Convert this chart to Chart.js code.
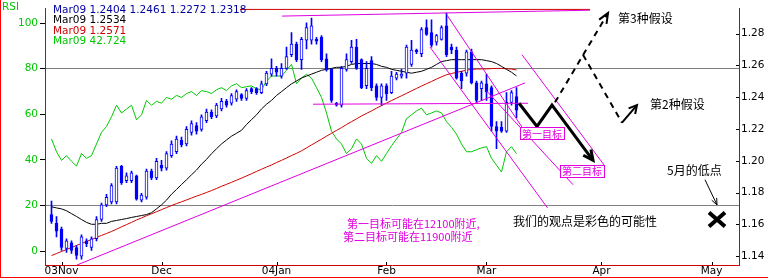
<!DOCTYPE html>
<html>
<head>
<meta charset="utf-8">
<script src="https://cdn.jsdelivr.net/npm/chart.js@4.4.1/dist/chart.umd.min.js"></script>
<style>
  html, body { margin: 0; padding: 0; background: #fff; }
  canvas { display: block; }
</style>
</head>
<body>
<canvas id="myChart" width="768" height="279"></canvas>
<script>
// daily bars, index 0 = 30 Oct 2003 ... 93 = 09 Mar 2004
var lastDate = "Mar09";
var opens = [1.1662,1.1607,1.1571,1.1449,1.1485,1.1455,1.1400,1.1497,1.1455,1.1510,
  1.1631,1.1723,1.1741,1.1741,1.1966,1.1875,1.1875,1.1905,1.1753,1.1771,
  1.1936,1.1893,1.1972,1.1954,1.2033,1.2058,1.2131,1.2106,1.2179,1.2222,
  1.2198,1.2252,1.2307,1.2283,1.2326,1.2374,1.2362,1.2387,1.2417,1.2393,
  1.2454,1.2454,1.2429,1.2484,1.2545,1.2581,1.2533,1.2581,1.2667,1.2734,
  1.2636,1.2758,1.2758,1.2764,1.2776,1.2642,1.2575,1.2362,1.2350,1.2575,
  1.2624,1.2715,1.2636,1.2472,1.2630,1.2472,1.2399,1.2472,1.2429,1.2520,
  1.2533,1.2551,1.2606,1.2697,1.2673,1.2837,1.2807,1.2746,1.2764,1.2849,
  1.2715,1.2697,1.2551,1.2551,1.2685,1.2490,1.2454,1.2484,1.2460,1.2216,
  1.2210,1.2186,1.2368,1.2404];
var highs = [1.1747,1.1650,1.1583,1.1510,1.1497,1.1467,1.1534,1.1510,1.1522,1.1650,
  1.1735,1.1790,1.1857,1.1966,1.1972,1.1924,1.1936,1.1911,1.1796,1.1948,
  1.1948,1.2015,1.2003,1.2058,1.2125,1.2155,1.2149,1.2216,1.2252,1.2240,
  1.2289,1.2326,1.2320,1.2362,1.2393,1.2387,1.2423,1.2447,1.2423,1.2454,
  1.2460,1.2460,1.2502,1.2563,1.2642,1.2594,1.2612,1.2715,1.2807,1.2746,
  1.2776,1.2868,1.2898,1.2776,1.2788,1.2673,1.2581,1.2368,1.2594,1.2673,
  1.2758,1.2764,1.2642,1.2624,1.2655,1.2484,1.2484,1.2484,1.2563,1.2557,
  1.2575,1.2727,1.2758,1.2703,1.2837,1.2886,1.2886,1.2795,1.2849,1.2929,
  1.2734,1.2715,1.2563,1.2697,1.2703,1.2502,1.2502,1.2545,1.2472,1.2246,
  1.2246,1.2429,1.2441,1.2461];
var lows = [1.1607,1.1522,1.1437,1.1424,1.1418,1.1382,1.1382,1.1461,1.1437,1.1497,
  1.1619,1.1711,1.1729,1.1729,1.1851,1.1863,1.1863,1.1753,1.1741,1.1759,
  1.1881,1.1881,1.1936,1.1942,1.2021,1.2045,1.2088,1.2094,1.2161,1.2167,
  1.2186,1.2240,1.2265,1.2271,1.2313,1.2338,1.2350,1.2374,1.2380,1.2380,
  1.2423,1.2417,1.2423,1.2472,1.2533,1.2533,1.2520,1.2575,1.2655,1.2624,
  1.2575,1.2703,1.2734,1.2734,1.2624,1.2563,1.2368,1.2344,1.2338,1.2563,
  1.2612,1.2575,1.2454,1.2454,1.2441,1.2380,1.2350,1.2380,1.2423,1.2508,
  1.2520,1.2520,1.2594,1.2673,1.2655,1.2788,1.2715,1.2727,1.2758,1.2655,
  1.2673,1.2514,1.2454,1.2533,1.2484,1.2368,1.2380,1.2380,1.2186,1.2076,
  1.2179,1.2179,1.2350,1.2272];
var closes = [1.1619,1.1558,1.1455,1.1497,1.1437,1.1406,1.1522,1.1479,1.1510,1.1631,
  1.1723,1.1771,1.1845,1.1954,1.1863,1.1905,1.1924,1.1759,1.1784,1.1936,
  1.1893,1.1997,1.1954,1.2045,1.2106,1.2137,1.2100,1.2198,1.2234,1.2186,
  1.2277,1.2307,1.2277,1.2350,1.2374,1.2350,1.2411,1.2435,1.2393,1.2441,
  1.2435,1.2429,1.2484,1.2551,1.2581,1.2557,1.2581,1.2655,1.2734,1.2636,
  1.2764,1.2837,1.2849,1.2752,1.2636,1.2575,1.2380,1.2350,1.2581,1.2636,
  1.2715,1.2581,1.2460,1.2581,1.2460,1.2399,1.2472,1.2423,1.2533,1.2545,
  1.2545,1.2715,1.2697,1.2685,1.2825,1.2795,1.2727,1.2788,1.2837,1.2667,
  1.2697,1.2520,1.2502,1.2685,1.2490,1.2380,1.2490,1.2435,1.2216,1.2186,
  1.2186,1.2368,1.2429,1.2318];
var maShort = [1.1711,1.1704,1.1698,1.1686,1.1668,1.1650,1.1631,1.1613,1.1601,1.1601,
  1.1607,1.1607,1.1619,1.1625,1.1631,1.1637,1.1644,1.1650,1.1656,1.1662,
  1.1674,1.1698,1.1723,1.1753,1.1790,1.1820,1.1851,1.1881,1.1912,1.1942,
  1.1979,1.2009,1.2045,1.2076,1.2106,1.2131,1.2155,1.2173,1.2192,1.2228,
  1.2259,1.2289,1.2326,1.2356,1.2380,1.2411,1.2435,1.2460,1.2484,1.2502,
  1.2521,1.2533,1.2545,1.2557,1.2569,1.2575,1.2581,1.2588,1.2588,1.2594,
  1.2606,1.2612,1.2612,1.2612,1.2612,1.2606,1.2594,1.2588,1.2575,1.2569,
  1.2563,1.2557,1.2551,1.2557,1.2563,1.2575,1.2588,1.2606,1.2624,1.2630,
  1.2636,1.2636,1.2636,1.2636,1.2636,1.2636,1.2636,1.2630,1.2624,1.2612,
  1.2594,1.2575,1.2557,1.2534];
var maLong = [1.1404,1.1417,1.1430,1.1442,1.1455,1.1468,1.1480,1.1493,1.1505,1.1518,
  1.1531,1.1543,1.1556,1.1570,1.1585,1.1599,1.1613,1.1628,1.1641,1.1655,
  1.1667,1.1680,1.1693,1.1706,1.1719,1.1731,1.1742,1.1754,1.1766,1.1778,
  1.1789,1.1801,1.1813,1.1826,1.1840,1.1852,1.1865,1.1878,1.1891,1.1905,
  1.1919,1.1933,1.1947,1.1961,1.1974,1.1989,1.2003,1.2018,1.2033,1.2047,
  1.2063,1.2081,1.2100,1.2118,1.2136,1.2155,1.2173,1.2191,1.2209,1.2228,
  1.2246,1.2264,1.2282,1.2298,1.2314,1.2331,1.2347,1.2363,1.2379,1.2394,
  1.2409,1.2424,1.2440,1.2455,1.2470,1.2485,1.2499,1.2514,1.2528,1.2541,
  1.2549,1.2556,1.2563,1.2570,1.2575,1.2577,1.2578,1.2578,1.2580,1.2581,
  1.2581,1.2579,1.2577,1.2571];
var rsi = [49.2,43.6,39.8,41.9,39.4,37.3,42.8,40.7,41.9,47.0,
  52.1,54.7,58.9,64.0,60.6,62.3,64.0,57.6,59.8,66.1,
  64.0,65.7,64.9,67.4,66.6,68.3,67.4,69.1,70.0,68.3,
  70.4,70.0,69.1,70.8,71.7,70.4,72.5,73.4,71.7,72.1,
  72.5,71.2,70.8,74.6,76.8,76.8,76.8,79.3,81.9,73.4,
  75.9,77.6,75.9,71.7,67.4,60.6,52.6,49.2,47.0,42.8,
  44.9,49.2,47.0,40.7,38.5,41.9,39.4,42.8,46.2,49.2,
  52.1,58.1,59.8,61.5,62.7,59.8,60.6,61.5,60.6,56.8,
  54.3,51.3,47.0,43.6,43.6,44.5,45.3,45.8,40.7,37.7,
  34.7,43.6,45.8,42.724];

var tickPos = [2, 22, 45, 67, 87, 110, 132];
var tickLabels = ["03Nov", "Dec", "04Jan", "Feb", "Mar", "Apr", "May"];
var priceTicks = [1.14, 1.16, 1.18, 1.2, 1.22, 1.24, 1.26, 1.28];
var rsiTicks = [0, 20, 40, 60, 80, 100];
var rsiLevels = [20, 80];

// hand-drawn trend lines (bar index, price)
var trendLines = [
  [[46.1, 1.2910], [107.7, 1.2947]],
  [[5.1, 1.1345], [94.7, 1.2490]],
  [[52.3, 1.2356], [95.3, 1.2362]],
  [[79.1, 1.2916], [95.7, 1.2137]],
  [[75.7, 1.2715], [99.2, 1.1704]],
  [[94.1, 1.2667], [110.7, 1.1966]],
  [[87.0, 1.2440], [104.3, 1.1850]]
];
var redTop = [[37.7, 1.2952], [107.7, 1.2952]];

var BLUE = "#0000ff", MAG = "#e000e0", GREEN = "#00c800", RED = "#d00000";
var FONT = "DejaVu Sans";
var CJK = "'Noto Sans CJK SC'";

var idx = opens.map(function (v, i) { return i; });

var datasets = [
  {
    type: "line", data: idx.map(function (i) { return { x: i, y: rsi[i] }; }),
    yAxisID: "rsi", borderColor: GREEN, borderWidth: 1, pointRadius: 0, order: 9
  },
  {
    type: "line", data: idx.map(function (i) { return { x: i, y: maLong[i] }; }),
    yAxisID: "price", borderColor: RED, borderWidth: 1, pointRadius: 0, order: 8
  },
  {
    type: "line", data: idx.map(function (i) { return { x: i, y: maShort[i] }; }),
    yAxisID: "price", borderColor: "#000", borderWidth: 1, pointRadius: 0, order: 7
  },
  {
    type: "bar", data: idx.map(function (i) { return { x: i, y: [lows[i], highs[i]] }; }),
    yAxisID: "price", backgroundColor: BLUE, barThickness: 1, grouped: false, order: 6
  },
  {
    type: "bar", data: idx.map(function (i) { return { x: i, y: [opens[i], closes[i]] }; }),
    yAxisID: "price", barThickness: 3, grouped: false, order: 5,
    borderColor: BLUE, borderWidth: 1, borderSkipped: false,
    backgroundColor: idx.map(function (i) { return closes[i] >= opens[i] ? "#fff" : BLUE; })
  }
];
trendLines.forEach(function (seg) {
  datasets.push({
    type: "line", data: seg.map(function (p) { return { x: p[0], y: p[1] }; }),
    yAxisID: "price", borderColor: MAG, borderWidth: 1, pointRadius: 0, order: 2
  });
});
datasets.push({
  type: "line", data: redTop.map(function (p) { return { x: p[0], y: p[1] }; }),
  yAxisID: "price", borderColor: RED, borderWidth: 1, pointRadius: 0, order: 2, clip: false
});

function arrowHead(ctx, from, to, len, ang) {
  var a = Math.atan2(to[1] - from[1], to[0] - from[0]);
  ctx.beginPath();
  ctx.moveTo(to[0] - len * Math.cos(a - ang), to[1] - len * Math.sin(a - ang));
  ctx.lineTo(to[0], to[1]);
  ctx.lineTo(to[0] - len * Math.cos(a + ang), to[1] - len * Math.sin(a + ang));
  ctx.stroke();
}

var extras = {
  id: "extras",
  afterDatasetsDraw: function (chart) {
    var ctx = chart.ctx, xs = chart.scales.x, ps = chart.scales.price;
    var P = function (p) { return [xs.getPixelForValue(p[0]), ps.getPixelForValue(p[1])]; };
    ctx.save();
    ctx.strokeStyle = "#000";
    ctx.lineJoin = "miter";

    // scenario 1: solid zigzag
    var zig = [[93.5, 1.2362], [97.1, 1.2216], [100.1, 1.2350], [108.3, 1.2003]].map(P);
    ctx.lineWidth = 3;
    ctx.beginPath();
    zig.forEach(function (p, i) { i ? ctx.lineTo(p[0], p[1]) : ctx.moveTo(p[0], p[1]); });
    ctx.stroke();
    arrowHead(ctx, zig[2], zig[3], 11, 0.45);

    // scenario 3 and 2: dashed
    ctx.lineWidth = 2;
    ctx.setLineDash([6, 5]);
    var up = [[100.7, 1.2368], [111.3, 1.2929]].map(P);
    ctx.beginPath(); ctx.moveTo(up[0][0], up[0][1]); ctx.lineTo(up[1][0], up[1][1]); ctx.stroke();
    var dn = [[106.3, 1.2667], [114.1, 1.2240], [117.1, 1.2350]].map(P);
    ctx.beginPath(); ctx.moveTo(dn[0][0], dn[0][1]); ctx.lineTo(dn[1][0], dn[1][1]); ctx.stroke();
    ctx.setLineDash([]);
    ctx.beginPath(); ctx.moveTo(dn[1][0], dn[1][1]); ctx.lineTo(dn[2][0], dn[2][1]); ctx.stroke();
    arrowHead(ctx, up[0], up[1], 11, 0.4);
    arrowHead(ctx, dn[1], dn[2], 9, 0.5);

    // May low arrow and cross
    ctx.lineWidth = 1;
    var la = [[130.7, 1.1881], [133.1, 1.1723]].map(P);
    ctx.beginPath(); ctx.moveTo(la[0][0], la[0][1]); ctx.lineTo(la[1][0], la[1][1]); ctx.stroke();
    arrowHead(ctx, la[0], la[1], 7, 0.4);
    var c = P([133.1, 1.1631]);
    ctx.lineWidth = 4;
    ctx.beginPath();
    ctx.moveTo(c[0] - 8, c[1] - 7); ctx.lineTo(c[0] + 8, c[1] + 7);
    ctx.moveTo(c[0] + 8, c[1] - 7); ctx.lineTo(c[0] - 8, c[1] + 7);
    ctx.stroke();

    // target boxes
    ctx.font = "10px " + CJK;
    ctx.textBaseline = "middle";
    [["第一目标", [98.1, 1.2173]], ["第二目标", [106.1, 1.1936]]].forEach(function (b) {
      var p = P(b[1]);
      var w = ctx.measureText(b[0]).width + 4;
      ctx.fillStyle = "#fff";
      ctx.fillRect(p[0] - w / 2, p[1] - 6, w, 12);
      ctx.strokeStyle = MAG; ctx.lineWidth = 1;
      ctx.strokeRect(Math.round(p[0] - w / 2) + 0.5, Math.round(p[1] - 6) + 0.5, Math.round(w), 12);
      ctx.fillStyle = MAG; ctx.textAlign = "center";
      ctx.fillText(b[0], p[0], p[1] + 0.5);
    });

    // texts
    ctx.textAlign = "left";
    ctx.fillStyle = "#000";
    ctx.font = "12px " + CJK;
    [["第3种假设", [113.3, 1.2898]], ["第2种假设", [119.7, 1.2356]],
     ["5月的低点", [123.1, 1.1942]], ["我们的观点是彩色的可能性", [92.3, 1.1619]]].forEach(function (t) {
      var p = P(t[1]);
      ctx.fillText(t[0], p[0], p[1]);
    });
    ctx.fillStyle = MAG;
    ctx.font = "11px " + CJK;
    [["第一目标可能在12100附近,", [59.1, 1.1601]], ["第二目标可能在11900附近", [58.3, 1.1522]]].forEach(function (t) {
      var p = P(t[1]);
      ctx.fillText(t[0], p[0], p[1]);
    });
    ctx.restore();
  },
  afterDraw: function (chart) {
    var ctx = chart.ctx, xs = chart.scales.x, ps = chart.scales.price, a = chart.chartArea;
    ctx.save();
    // inward tick marks
    ctx.strokeStyle = "#000"; ctx.lineWidth = 1;
    ctx.beginPath();
    tickPos.forEach(function (v) {
      var x = Math.round(xs.getPixelForValue(v)) + 0.5;
      ctx.moveTo(x, a.bottom - 3); ctx.lineTo(x, a.bottom);
    });
    priceTicks.forEach(function (v) {
      var y = Math.round(ps.getPixelForValue(v)) + 0.5;
      ctx.moveTo(a.right - 3, y); ctx.lineTo(a.right, y);
    });
    ctx.stroke();
    // outer frame
    ctx.strokeStyle = "#ff0000";
    ctx.beginPath();
    ctx.moveTo(0.5, 0); ctx.lineTo(0.5, 278);
    ctx.moveTo(0, 277.5); ctx.lineTo(768, 277.5);
    ctx.stroke();
    // legend
    var n = opens.length - 1;
    ctx.font = "10.5px " + FONT;
    ctx.textBaseline = "middle";
    ctx.textAlign = "left";
    var rows = [
      [lastDate + " " + [opens[n], highs[n], lows[n], closes[n]].map(function (v) { return v.toFixed(4); }).join(" "), "#0000a0"],
      [lastDate + " " + maShort[n].toFixed(4), "#000"],
      [lastDate + " " + maLong[n].toFixed(4), RED],
      [lastDate + " " + rsi[n].toFixed(3), GREEN]
    ];
    rows.forEach(function (r, i) {
      ctx.fillStyle = r[1];
      ctx.fillText(r[0], 53, 10 + i * 10.4);
    });
    ctx.fillStyle = GREEN;
    ctx.fillText("RSI", 2, 7);
    ctx.restore();
  }
};

new Chart("myChart", {
  type: "bar",
  data: { datasets: datasets },
  options: {
    responsive: false,
    animation: false,
    devicePixelRatio: 1,
    events: [],
    layout: { padding: 0 },
    plugins: { legend: { display: false }, tooltip: { enabled: false } },
    scales: {
      x: {
        type: "linear", min: -1.3, max: 137.5, offset: false,
        afterBuildTicks: function (s) { s.ticks = tickPos.map(function (v) { return { value: v }; }); },
        afterFit: function (s) { s.height = 14; },
        ticks: {
          autoSkip: false, maxRotation: 0, padding: 0, color: "#000",
          font: { family: FONT, size: 10.5 },
          callback: function (v) { return tickLabels[tickPos.indexOf(v)]; }
        },
        grid: { drawOnChartArea: false, drawTicks: false, offset: false },
        border: { color: RED, width: 1 }
      },
      rsi: {
        type: "linear", position: "left", min: -6.07, max: 106.5,
        afterBuildTicks: function (s) { s.ticks = rsiTicks.map(function (v) { return { value: v }; }); },
        afterFit: function (s) { s.width = 45; },
        ticks: { color: GREEN, padding: 2, font: { family: FONT, size: 10.5 } },
        grid: {
          tickLength: 5, tickColor: "#000",
          color: function (c) { return c.tick && rsiLevels.indexOf(c.tick.value) >= 0 ? "#808080" : "rgba(0,0,0,0)"; }
        },
        border: { color: RED, width: 1 }
      },
      price: {
        type: "linear", position: "right", min: 1.1345, max: 1.2959,
        afterBuildTicks: function (s) { s.ticks = priceTicks.map(function (v) { return { value: v }; }); },
        afterFit: function (s) { s.width = 29; },
        ticks: { color: "#000", padding: 2, font: { family: FONT, size: 10.5 } },
        grid: { drawOnChartArea: false, drawTicks: false },
        border: { color: RED, width: 1 }
      }
    }
  },
  plugins: [extras]
});
</script>
</body>
</html>
